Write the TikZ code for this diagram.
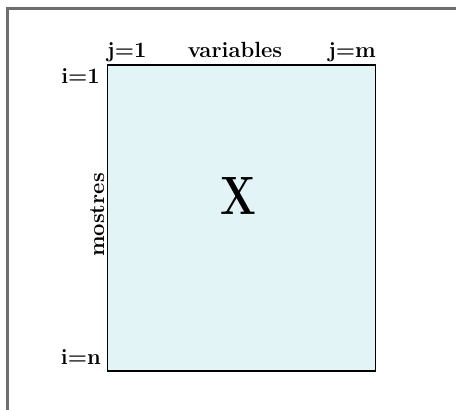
\documentclass[tikz,border=0pt]{standalone}
\usepackage{fontspec}
\usepackage{graphicx}
\definecolor{matfill}{RGB}{227,244,247}
\definecolor{framegray}{RGB}{110,110,110}
\begin{document}
\begin{tikzpicture}[x=1pt,y=-1pt,
  lbl/.style={inner sep=0pt,font=\fontsize{22}{26}\selectfont\bfseries}]
\useasboundingbox (0,0) rectangle (456,410);
\fill[white] (0,0) rectangle (456,410);
\draw[framegray,line width=2.2pt] (7.5,411) -- (7.5,8.5) -- (457,8.5);
\draw[black,line width=1.5pt,fill=matfill] (107.5,65) rectangle (375.5,371);
\node[lbl,anchor=base west] (j1) at (107,57) {j=1};
\node[lbl,anchor=base] (vars) at (235,57) {variables};
\node[lbl,anchor=base east] (jm) at (376,57) {j=m};
\node[lbl,anchor=base east] (i1) at (100,83) {i=1};
\node[lbl,anchor=base east] (in) at (101,364) {i=n};
\node[lbl,anchor=base,rotate=90] (mos) at (104,215) {mostres};
\node[inner sep=0pt] (X) at (238,196) {\scalebox{0.78}[1]{\fontsize{54}{60}\selectfont\bfseries X}};
\end{tikzpicture}
\end{document}
